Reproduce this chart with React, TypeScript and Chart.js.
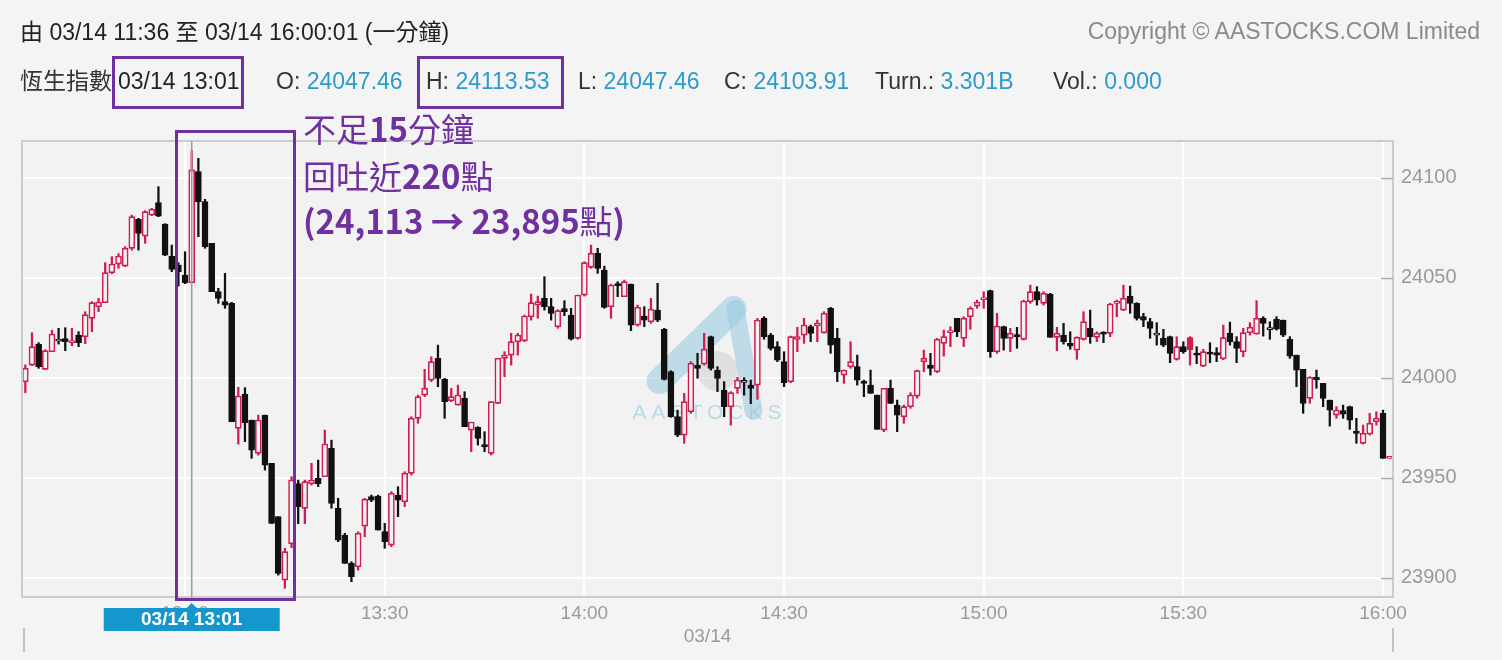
import React, { useEffect, useRef } from "react";
import { Chart, registerables } from "chart.js";

Chart.register(...registerables);

// ---------- DATA ----------
const sessions: [string, string][] = [
  ["11:36", "11:59"],
  ["13:00", "16:00"],
];
const closingLabel = "16:00:01";

const toMin = (s: string) => {
  const [h, m] = s.split(":").map(Number);
  return h * 60 + m;
};
const fmtMin = (t: number) =>
  String(Math.floor(t / 60)).padStart(2, "0") + ":" + String(t % 60).padStart(2, "0");

const timeLabels: string[] = sessions
  .flatMap(([a, b]) => {
    const out: string[] = [];
    for (let t = toMin(a); t <= toMin(b); t++) out.push(fmtMin(t));
    return out;
  })
  .concat([closingLabel]);

const opens = [
  23998.0, 24006.3, 24016.8, 24004.2, 24013.0, 24018.3, 24019.5, 24017.5, 24021.3, 24020.5,
  24029.7, 24035.5, 24037.5, 24052.5, 24056.8, 24055.8, 24064.7, 24079.2, 24070.8, 24081.3,
  24087.5, 24076.8, 24060.8, 24056.3, 24051.3, 24047.46, 24103.0, 24088.0, 24067.2, 24043.0,
  24038.0, 24037.2, 23974.7, 23991.8, 23978.8, 23962.2, 23981.3, 23957.2, 23930.5, 23898.8,
  23917.0, 23947.0, 23934.7, 23947.0, 23949.7, 23950.5, 23964.7, 23934.7, 23921.3, 23907.2,
  23905.5, 23925.8, 23940.5, 23940.8, 23923.0, 23916.3, 23941.3, 23938.0, 23952.2, 23979.7,
  23991.3, 23998.8, 24009.7, 23999.2, 23988.5, 23986.3, 23989.7, 23973.8, 23975.2, 23966.3,
  23962.2, 23987.2, 24009.7, 24011.3, 24018.0, 24018.5, 24030.5, 24036.3, 24039.7, 24035.5,
  24025.5, 24034.5, 24031.3, 24019.7, 24041.3, 24055.2, 24062.2, 24053.8, 24035.5, 24046.8,
  24040.5, 24046.8, 24026.3, 24030.8, 24028.0, 24033.8, 24024.2, 24003.0, 23980.5, 23971.3,
  23983.0, 24006.3, 24006.8, 24020.5, 24003.8, 23993.8, 23985.5, 23994.7, 23997.7, 23996.3,
  23996.3, 24029.7, 24021.3, 24015.5, 24008.0, 23998.0, 24019.2, 24021.3, 24025.5, 24026.0,
  24022.5, 24034.7, 24019.7, 24001.3, 24005.5, 24005.5, 23998.0, 23996.3, 23991.3, 23973.8,
  23994.7, 23986.3, 23980.5, 23985.5, 23990.8, 24008.0, 24006.3, 24003.0, 24017.2, 24022.5,
  24029.7, 24019.7, 24030.5, 24035.8, 24039.0, 24043.5, 24013.0, 24025.5, 24019.7, 24021.3,
  24019.2, 24038.0, 24043.0, 24037.2, 24041.8, 24020.2, 24021.3, 24017.2, 24013.8, 24019.2,
  24024.7, 24020.2, 24022.5, 24022.2, 24037.2, 24033.8, 24040.8, 24037.2, 24030.5, 24028.0,
  24021.3, 24019.7, 24020.5, 24009.2, 24015.5, 24020.0, 24012.2, 24005.8, 24012.5, 24012.5,
  24009.5, 24022.2, 24018.0, 24013.0, 24022.5, 24021.8, 24029.7, 24024.0, 24029.2, 24028.8,
  24019.2, 24011.3, 24004.2, 23989.7, 24000.2, 23997.2, 23988.8, 23981.3, 23983.5, 23985.5,
  23973.3, 23967.2, 23971.8, 23978.0, 23982.2, 23959.7,
];

const highs = [
  24006.4, 24022.5, 24017.5, 24014.0, 24023.8, 24024.7, 24025.0, 24024.7, 24023.0, 24033.0,
  24038.0, 24039.7, 24057.5, 24060.5, 24062.0, 24065.5, 24081.3, 24079.7, 24083.5, 24084.7,
  24095.5, 24077.0, 24066.3, 24057.5, 24063.0, 24113.53, 24109.7, 24089.2, 24067.2, 24044.7,
  24052.2, 24037.7, 23995.2, 23995.0, 23978.8, 23981.3, 23981.3, 23957.2, 23930.5, 23914.7,
  23950.5, 23948.8, 23948.8, 23957.2, 23958.8, 23973.8, 23968.8, 23939.7, 23922.2, 23908.0,
  23923.0, 23939.7, 23941.3, 23941.3, 23927.2, 23943.0, 23945.5, 23953.0, 23980.5, 23991.3,
  24004.2, 24010.5, 24016.3, 23999.7, 23994.7, 23996.3, 23993.0, 23977.8, 23975.5, 23973.0,
  23988.0, 24009.7, 24013.0, 24022.2, 24022.2, 24031.3, 24041.8, 24040.8, 24050.5, 24039.7,
  24034.0, 24038.5, 24034.7, 24041.3, 24058.0, 24066.3, 24064.7, 24055.8, 24046.8, 24048.0,
  24048.8, 24046.8, 24036.3, 24035.5, 24039.7, 24047.2, 24024.7, 24003.5, 23983.8, 23992.2,
  24008.0, 24012.2, 24022.2, 24020.8, 24005.5, 23998.0, 23993.0, 24000.2, 24000.0, 23998.8,
  24029.7, 24030.5, 24022.2, 24018.0, 24013.0, 24020.8, 24025.2, 24029.7, 24026.3, 24028.8,
  24033.0, 24035.2, 24024.7, 24003.8, 24018.0, 24011.3, 23998.8, 24003.8, 23991.3, 23994.7,
  23998.8, 23988.8, 23986.3, 23992.5, 24003.8, 24013.8, 24012.2, 24019.7, 24023.8, 24025.5,
  24029.7, 24030.5, 24035.5, 24038.8, 24043.0, 24043.8, 24032.2, 24025.8, 24024.7, 24025.2,
  24038.8, 24046.3, 24045.5, 24043.0, 24042.2, 24025.2, 24027.2, 24023.0, 24020.5, 24033.0,
  24033.8, 24023.0, 24023.0, 24037.2, 24038.8, 24046.3, 24045.8, 24037.5, 24032.2, 24029.7,
  24027.5, 24024.2, 24020.8, 24020.5, 24018.0, 24020.5, 24015.5, 24014.2, 24017.5, 24015.0,
  24026.3, 24027.8, 24020.5, 24024.7, 24027.5, 24038.5, 24030.5, 24028.0, 24030.5, 24028.8,
  24020.5, 24011.3, 24004.2, 24000.5, 24003.8, 23997.2, 23988.8, 23985.5, 23986.3, 23985.8,
  23979.7, 23976.3, 23982.2, 23983.0, 23983.8, 23959.7,
];

const lows = [
  23992.5, 24006.0, 24004.7, 24004.0, 24013.0, 24016.8, 24013.5, 24016.0, 24015.5, 24017.0,
  24023.0, 24033.0, 24037.5, 24052.0, 24054.7, 24055.5, 24063.8, 24063.8, 24067.2, 24081.0,
  24080.5, 24061.0, 24053.0, 24045.8, 24047.0, 24047.46, 24070.5, 24064.7, 24043.0, 24037.2,
  24034.7, 23978.0, 23966.8, 23968.0, 23959.7, 23961.3, 23953.8, 23927.0, 23901.3, 23894.7,
  23915.0, 23927.0, 23927.0, 23946.3, 23945.5, 23950.5, 23934.7, 23918.0, 23907.2, 23898.0,
  23903.8, 23920.5, 23938.0, 23923.8, 23914.7, 23915.5, 23930.5, 23935.5, 23951.3, 23977.2,
  23990.5, 23998.0, 23995.5, 23979.7, 23988.0, 23986.3, 23975.5, 23963.0, 23966.3, 23963.0,
  23961.3, 23987.0, 24000.5, 24006.3, 24011.3, 24018.0, 24028.8, 24029.7, 24033.8, 24028.8,
  24024.7, 24031.0, 24018.8, 24019.2, 24040.8, 24054.7, 24052.2, 24034.7, 24029.7, 24040.5,
  24040.5, 24023.5, 24025.8, 24025.5, 24027.2, 24028.0, 23998.8, 23980.2, 23970.5, 23967.2,
  23982.2, 23999.7, 24006.3, 24003.8, 23993.0, 23980.5, 23976.3, 23992.2, 23991.3, 23987.0,
  23989.2, 24019.2, 24013.8, 24008.0, 23995.5, 23997.5, 24013.0, 24017.2, 24018.0, 24018.0,
  24022.2, 24012.2, 23998.0, 23997.2, 24004.7, 23996.3, 23990.5, 23992.2, 23974.2, 23973.0,
  23987.0, 23973.0, 23977.2, 23984.7, 23989.7, 24003.0, 24001.3, 24002.5, 24010.8, 24015.5,
  24020.5, 24015.5, 24024.2, 24034.7, 24034.7, 24010.2, 24012.2, 24013.8, 24013.0, 24014.7,
  24018.8, 24037.2, 24036.3, 24036.3, 24020.2, 24013.5, 24016.8, 24014.2, 24009.2, 24018.8,
  24017.2, 24018.0, 24017.5, 24020.5, 24030.5, 24033.5, 24032.2, 24028.8, 24025.5, 24019.7,
  24016.3, 24015.5, 24007.5, 24008.8, 24012.2, 24006.3, 24007.0, 24005.5, 24007.5, 24008.0,
  24009.0, 24016.3, 24007.5, 24010.5, 24021.3, 24021.8, 24020.8, 24019.2, 24023.8, 24020.5,
  24009.7, 23995.5, 23982.2, 23987.2, 23994.7, 23985.5, 23975.8, 23979.7, 23979.7, 23974.2,
  23967.2, 23966.8, 23971.3, 23976.3, 23959.7, 23959.7,
];

const closes = [
  24004.7, 24015.5, 24005.5, 24013.5, 24021.8, 24018.6, 24018.0, 24018.5, 24017.5, 24031.5,
  24037.5, 24037.8, 24052.5, 24056.8, 24060.8, 24064.7, 24080.5, 24072.2, 24083.0, 24084.2,
  24080.8, 24061.3, 24054.2, 24053.0, 24047.5, 24103.91, 24088.0, 24065.5, 24043.0, 24039.7,
  24036.3, 23978.0, 23990.8, 23977.5, 23963.8, 23978.8, 23956.3, 23927.2, 23902.2, 23913.0,
  23948.8, 23935.5, 23948.0, 23948.8, 23947.0, 23966.8, 23937.2, 23918.8, 23907.2, 23900.5,
  23922.2, 23939.2, 23938.8, 23923.8, 23918.0, 23942.2, 23938.8, 23952.2, 23979.7, 23990.5,
  23994.7, 24008.0, 23999.7, 23988.0, 23990.5, 23991.3, 23975.5, 23977.8, 23969.7, 23965.5,
  23988.0, 24009.7, 24011.3, 24018.0, 24021.3, 24030.8, 24037.5, 24038.0, 24035.5, 24032.2,
  24033.5, 24033.0, 24019.3, 24041.3, 24057.5, 24062.2, 24054.7, 24035.2, 24046.3, 24046.0,
  24048.0, 24026.3, 24035.2, 24028.8, 24034.2, 24028.8, 23999.2, 23980.5, 23971.3, 23988.0,
  24007.2, 24004.7, 24014.2, 24004.7, 23999.7, 23985.5, 23992.5, 23998.8, 23998.0, 23994.7,
  24028.8, 24020.5, 24014.7, 24008.8, 23997.5, 24020.5, 24020.5, 24026.3, 24022.2, 24027.3,
  24032.2, 24016.3, 24003.0, 24003.8, 24008.0, 23998.8, 23997.2, 23992.2, 23974.2, 23994.7,
  23987.2, 23981.3, 23985.5, 23991.3, 24003.5, 24009.7, 24004.7, 24019.2, 24020.5, 24023.3,
  24023.0, 24029.7, 24034.7, 24037.8, 24039.7, 24013.0, 24025.8, 24019.7, 24022.2, 24020.5,
  24038.3, 24043.0, 24038.8, 24042.2, 24020.2, 24022.2, 24018.0, 24015.8, 24020.2, 24028.0,
  24020.5, 24022.2, 24021.8, 24036.8, 24037.8, 24039.7, 24037.2, 24029.7, 24028.8, 24024.7,
  24022.0, 24016.3, 24012.2, 24015.5, 24013.0, 24014.0, 24011.3, 24013.0, 24011.8, 24011.3,
  24020.0, 24018.0, 24014.7, 24022.5, 24025.2, 24029.7, 24027.2, 24024.5, 24024.3, 24021.3,
  24010.8, 24003.8, 23987.2, 24000.2, 23999.0, 23989.7, 23983.8, 23983.8, 23981.8, 23978.8,
  23972.2, 23972.2, 23977.2, 23979.7, 23959.7, 23959.7,
];

const yMin = 23890.35;
const yMax = 24118.35;
const yStep = 50;
const highlightIndex = 25; // 03/14 13:01
const highlightLabel = "03/14 13:01";
const dateLabel = "03/14";

// ---------- STYLE ----------
const PAGE_BG = "#f4f4f4";
const PLOT_BG = "#f2f2f2";
const RED = "#d21c4e";
const BLACK = "#111111";
const PURPLE = "#7030a0";
const BLUE_TXT = "#2c9bcc";
const AXIS_TXT = "#9a9a9a";
const SANS = "'Liberation Sans', Arial, 'Noto Sans CJK TC', sans-serif";

const isRed = (i: number) => closes[i] >= (i > 0 ? closes[i - 1] : opens[i]);
const isHollow = (i: number) => closes[i] >= opens[i];
const candleColor = (i: number) => (isRed(i) ? RED : BLACK);
const isMajor = (i: number) => /^\d\d:(00|30)$/.test(timeLabels[i] || "") && i >= 24;

const decorPlugin = {
  id: "decor",
  beforeDraw(chart: any) {
    const { ctx, chartArea: a } = chart;
    ctx.save();
    ctx.fillStyle = PLOT_BG;
    ctx.fillRect(a.left, a.top, a.right - a.left, a.bottom - a.top);
    ctx.restore();
  },
  beforeDatasetsDraw(chart: any) {
    const { ctx, chartArea: a } = chart;
    const cx = (a.left + a.right) / 2;
    ctx.save();
    ctx.strokeStyle = "rgba(150,200,222,0.55)";
    ctx.lineCap = "round";
    ctx.lineJoin = "round";
    ctx.lineWidth = 26;
    ctx.beginPath();
    ctx.moveTo(cx - 48, a.top + 240);
    ctx.lineTo(cx + 26, a.top + 168);
    ctx.stroke();
    ctx.lineWidth = 18;
    ctx.beginPath();
    ctx.moveTo(cx + 28, a.top + 168);
    ctx.lineTo(cx + 46, a.top + 270);
    ctx.stroke();
    ctx.fillStyle = "rgba(200,200,200,0.45)";
    ctx.beginPath();
    ctx.arc(cx + 10, a.top + 230, 20, 0, Math.PI * 2);
    ctx.fill();
    ctx.fillStyle = "rgba(150,200,222,0.6)";
    ctx.font = "21px " + SANS;
    ctx.textAlign = "center";
    ctx.textBaseline = "middle";
    (ctx as any).letterSpacing = "5px";
    ctx.fillText("AASTOCKS", cx + 2, a.top + 272);
    ctx.restore();
  },
  afterDatasetsDraw(chart: any) {
    const { ctx, chartArea: a, scales } = chart;
    const xs = scales.x;
    const ys = scales.y;
    ctx.save();
    // plot border
    ctx.strokeStyle = "#cccccc";
    ctx.lineWidth = 2;
    ctx.strokeRect(a.left, a.top, a.right - a.left, a.bottom - a.top);
    // inner y tick marks
    ctx.strokeStyle = "#a8a8a8";
    ctx.lineWidth = 1.5;
    ys.ticks.forEach((t: any) => {
      const y = Math.round(ys.getPixelForValue(t.value)) + 0.5;
      ctx.beginPath();
      ctx.moveTo(a.right - 12, y);
      ctx.lineTo(a.right, y);
      ctx.stroke();
    });
    // crosshair
    const hx = xs.getPixelForValue(highlightIndex);
    ctx.strokeStyle = "#9c9c9c";
    ctx.lineWidth = 1.5;
    ctx.beginPath();
    ctx.moveTo(hx, a.top);
    ctx.lineTo(hx, a.bottom);
    ctx.stroke();
    // crosshair label
    const by = a.bottom + 11;
    ctx.fillStyle = "#1597cd";
    ctx.fillRect(hx - 88, by, 176, 23);
    ctx.beginPath();
    ctx.moveTo(hx - 5, by);
    ctx.lineTo(hx + 5, by);
    ctx.lineTo(hx, by - 5);
    ctx.closePath();
    ctx.fill();
    ctx.fillStyle = "#ffffff";
    ctx.font = "bold 19px " + SANS;
    ctx.textAlign = "center";
    ctx.textBaseline = "middle";
    ctx.fillText(highlightLabel, hx, by + 12);
    // date row
    ctx.fillStyle = AXIS_TXT;
    ctx.font = "19px " + SANS;
    ctx.fillText(dateLabel, (a.left + a.right) / 2, a.bottom + 40);
    ctx.strokeStyle = "#a0a0a0";
    ctx.lineWidth = 1.2;
    [a.left + 2, a.right].forEach((x: number) => {
      ctx.beginPath();
      ctx.moveTo(x, a.bottom + 31);
      ctx.lineTo(x, a.bottom + 55);
      ctx.stroke();
    });
    ctx.restore();
  },
};

function Txt(props: {
  x: number;
  y: number;
  size: number;
  color: string;
  children: React.ReactNode;
  right?: boolean;
  weight?: string | number;
  family?: string;
}) {
  const lh = Math.round(props.size * 1.2);
  const style: React.CSSProperties = {
    position: "absolute",
    top: props.y - lh / 2,
    fontSize: props.size,
    lineHeight: lh + "px",
    color: props.color,
    fontFamily: props.family || SANS,
    fontWeight: props.weight as any,
    whiteSpace: "nowrap",
  };
  if (props.right) style.right = 1502 - props.x;
  else style.left = props.x;
  return <div style={style}>{props.children}</div>;
}

function Box(props: { x: number; y: number; w: number; h: number }) {
  return (
    <div
      style={{
        position: "absolute",
        left: props.x,
        top: props.y,
        width: props.w,
        height: props.h,
        border: `3px solid ${PURPLE}`,
        boxSizing: "border-box",
      }}
    />
  );
}

export default function App() {
  const ref = useRef<HTMLCanvasElement | null>(null);

  useEffect(() => {
    if (!ref.current) return;
    const chart = new Chart(ref.current, {
      type: "bar",
      data: {
        labels: timeLabels,
        datasets: [
          {
            label: "body",
            data: opens.map((o, i) => [o, closes[i]]) as any,
            backgroundColor: opens.map((_, i) => (isHollow(i) ? PLOT_BG : candleColor(i))),
            borderColor: opens.map((_, i) => candleColor(i)),
            borderWidth: 1.6,
            borderSkipped: false,
            barThickness: 6,
            minBarLength: 2,
            grouped: false,
          } as any,
          {
            label: "wick",
            data: lows.map((l, i) => [l, highs[i]]) as any,
            backgroundColor: lows.map((_, i) => candleColor(i)),
            borderWidth: 0,
            barThickness: 1.6,
            grouped: false,
          } as any,
        ],
      },
      options: {
        responsive: false,
        animation: false,
        events: [],
        layout: { padding: { left: 22, top: 141, right: 0, bottom: 0 } },
        plugins: { legend: { display: false }, tooltip: { enabled: false } },
        scales: {
          x: {
            type: "category",
            offset: true,
            border: { display: false },
            grid: {
              offset: false,
              drawTicks: false,
              lineWidth: 2,
              color: (c: any) => (isMajor(c.index) ? "#ffffff" : "rgba(0,0,0,0)"),
            },
            ticks: {
              autoSkip: false,
              maxRotation: 0,
              minRotation: 0,
              padding: 5,
              color: AXIS_TXT,
              font: { size: 19, family: SANS },
              callback: (_v: any, i: number) => (isMajor(i) ? timeLabels[i] : ""),
            },
            afterFit: (s: any) => {
              s.height = 63;
            },
          },
          y: {
            position: "right",
            min: yMin,
            max: yMax,
            border: { display: false },
            grid: { drawTicks: false, color: "#ffffff", lineWidth: 2 },
            ticks: {
              stepSize: yStep,
              includeBounds: false,
              padding: 8,
              color: AXIS_TXT,
              font: { size: 20, family: SANS },
              callback: (v: any) => String(Math.round(v)),
            },
            afterFit: (s: any) => {
              s.width = 109;
            },
          },
        },
      } as any,
      plugins: [decorPlugin],
    });
    return () => chart.destroy();
  }, []);

  return (
    <div
      style={{
        position: "fixed",
        left: 0,
        top: 0,
        width: 1502,
        height: 660,
        background: PAGE_BG,
        overflow: "hidden",
      }}
    >
      <canvas
        ref={ref}
        width={1502}
        height={660}
        style={{ position: "absolute", left: 0, top: 0, width: 1502, height: 660 }}
      />
      <Txt x={20} y={32} size={23} color="#222">
        由 03/14 11:36 至 03/14 16:00:01 (一分鐘)
      </Txt>
      <Txt x={1480} y={31} size={23} color="#8a8a8a" right>
        Copyright © AASTOCKS.COM Limited
      </Txt>
      <Txt x={20} y={81} size={23} color="#333">恆生指數</Txt>
      <Txt x={118} y={81} size={23} color="#222">03/14 13:01</Txt>
      <Txt x={276} y={81} size={23} color="#333">
        O: <span style={{ color: BLUE_TXT }}>24047.46</span>
      </Txt>
      <Txt x={426} y={81} size={23} color="#333">
        H: <span style={{ color: BLUE_TXT }}>24113.53</span>
      </Txt>
      <Txt x={578} y={81} size={23} color="#333">
        L: <span style={{ color: BLUE_TXT }}>24047.46</span>
      </Txt>
      <Txt x={724} y={81} size={23} color="#333">
        C: <span style={{ color: BLUE_TXT }}>24103.91</span>
      </Txt>
      <Txt x={875} y={81} size={23} color="#333">
        Turn.: <span style={{ color: BLUE_TXT }}>3.301B</span>
      </Txt>
      <Txt x={1053} y={81} size={23} color="#333">
        Vol.: <span style={{ color: BLUE_TXT }}>0.000</span>
      </Txt>
      <Box x={112} y={56} w={132} h={53} />
      <Box x={417} y={56} w={147} h={53} />
      <Box x={175} y={130} w={121} h={471} />
      <Txt x={303} y={128} size={33} color={PURPLE} family="'Noto Sans CJK TC', sans-serif">
        不足<b>15</b>分鐘
      </Txt>
      <Txt x={303} y={175} size={33} color={PURPLE} family="'Noto Sans CJK TC', sans-serif">
        回吐近<b>220</b>點
      </Txt>
      <Txt x={303} y={220} size={33} color={PURPLE} family="'Noto Sans CJK TC', sans-serif">
        <b>(24,113 → 23,895</b>點<b>)</b>
      </Txt>
    </div>
  );
}
